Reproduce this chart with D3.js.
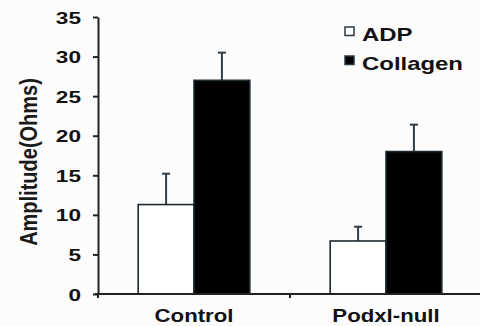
<!doctype html>
<html>
	<head>
		<meta charset="utf-8">
		<style type="text/css">
			body { margin: 0; background: #fcfcfd; }
			text { font-family: "Liberation Sans", Arial, sans-serif; font-weight: bold; fill: #111; }
		</style>
		<script src="https://d3js.org/d3.v7.min.js"></script>
	</head>
	<body>
		<svg width="480" height="326"></svg>
		<script type="text/javascript">
			var categories = ["Control", "Podxl-null"];
			var series = ["ADP", "Collagen"];
			var adpMean = [11.3, 6.7];
			var adpErr = [3.9, 1.8];
			var collagenMean = [27.0, 18.0];
			var collagenErr = [3.5, 3.4];
			var yTicks = [0, 5, 10, 15, 20, 25, 30, 35];

			var svg = d3.select("svg"),
				width = +svg.attr("width"),
				height = +svg.attr("height");

			var plotLeft = 98, plotBottom = 294, plotTop = 17, bandWidth = 192;

			var y = d3.scaleLinear().domain([0, 35]).range([plotBottom, plotTop]);
			var x0 = d3.scaleBand().domain(categories).range([plotLeft, plotLeft + bandWidth * categories.length]).padding(0);
			var x1 = d3.scaleBand().domain(series).range([0, bandWidth]).paddingInner(0).paddingOuter(0.72);

			var data = [];
			categories.forEach(function(c, i) {
				data.push({cat: c, s: "ADP", v: adpMean[i], e: adpErr[i]});
				data.push({cat: c, s: "Collagen", v: collagenMean[i], e: collagenErr[i]});
			});

			var fill = {ADP: "#ffffff", Collagen: "#000000"};
			var stretch = 1.33;

			// error bars (drawn first, bar tops cover them)
			var err = svg.append("g").attr("stroke", "#333d44").attr("stroke-width", 2);
			data.forEach(function(d) {
				var cx = x0(d.cat) + x1(d.s) + x1.bandwidth() / 2;
				err.append("line").attr("x1", cx).attr("x2", cx).attr("y1", y(d.v)).attr("y2", y(d.v + d.e));
				err.append("line").attr("x1", cx - 4).attr("x2", cx + 4).attr("y1", y(d.v + d.e)).attr("y2", y(d.v + d.e));
			});

			// bars
			svg.append("g").selectAll("rect")
				.data(data).enter()
				.append("rect")
					.attr("x", (d) => x0(d.cat) + x1(d.s))
					.attr("y", (d) => y(d.v))
					.attr("width", x1.bandwidth())
					.attr("height", (d) => y(0) - y(d.v))
					.style("fill", (d) => fill[d.s])
					.style("stroke", "#1e2a30")
					.style("stroke-width", 1.6);

			// y axis
			var yAxis = svg.append("g")
				.attr("transform", `translate(${plotLeft},0)`)
				.call(d3.axisLeft(y).tickValues(yTicks).tickSize(5).tickSizeOuter(0));
			yAxis.select(".domain").attr("stroke", "#222").attr("stroke-width", 2);
			yAxis.selectAll(".tick line").attr("stroke", "#222").attr("stroke-width", 2);
			yAxis.selectAll(".tick text")
				.attr("x", -17 / stretch)
				.attr("dy", "0.36em")
				.attr("transform", `scale(${stretch},1)`)
				.style("font-size", "17px")
				.style("font-family", "'Liberation Sans', Arial, sans-serif")
				.style("font-weight", "bold")
				.style("fill", "#111");

			// x axis, ticks on band edges
			var xAxis = svg.append("g").attr("stroke", "#222").attr("stroke-width", 2);
			xAxis.append("line").attr("x1", plotLeft - 3).attr("x2", width + 5).attr("y1", plotBottom).attr("y2", plotBottom);
			categories.concat([null]).forEach(function(c) {
				var tx = c === null ? x0.range()[1] : x0(c);
				xAxis.append("line").attr("x1", tx).attr("x2", tx).attr("y1", plotBottom).attr("y2", plotBottom + 4);
			});

			svg.append("g").selectAll("text")
				.data(categories).enter()
				.append("text")
					.attr("transform", (d) => `translate(${x0(d) + bandWidth / 2},322) scale(1.17,1)`)
					.attr("text-anchor", "middle")
					.style("font-size", "19px")
					.text((d) => d);

			// y label
			svg.append("text")
				.attr("transform", "translate(37,162) scale(1.15,1) rotate(-90)")
				.attr("text-anchor", "middle")
				.style("font-size", "20px")
				.style("fill", "#1a1a1a")
				.text("Amplitude(Ohms)");

			// legend
			var legend = svg.append("g").selectAll("g")
				.data(series).enter()
				.append("g")
					.attr("transform", (d, i) => `translate(345,${27 + i * 29})`);
			legend.append("rect")
				.attr("width", 9).attr("height", 8.5)
				.style("fill", (d) => fill[d])
				.style("stroke", "#2a3a40")
				.style("stroke-width", 1.5);
			legend.append("text")
				.attr("transform", `translate(17,13.5) scale(${stretch},1)`)
				.style("font-size", "18px")
				.text((d) => d);
		</script>
	</body>
</html>
